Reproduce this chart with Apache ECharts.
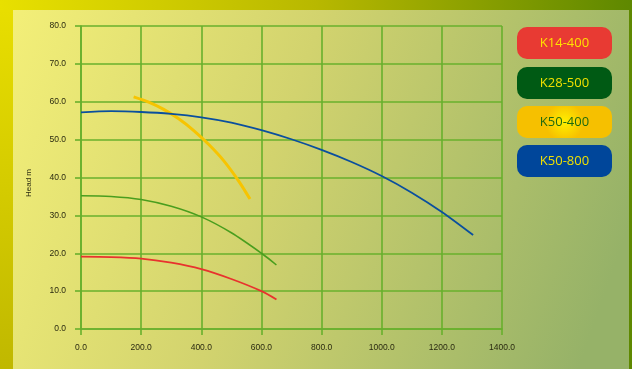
<!DOCTYPE html>
<html>
<head>
<meta charset="utf-8">
<script src="https://cdn.jsdelivr.net/npm/echarts@6/dist/echarts.min.js"></script>
<style>
html,body{margin:0;padding:0;background:#e0d800;}
#c{width:632px;height:369px;}
</style>
</head>
<body>
<div id="c"></div>
<script>
// ---- data ----
var seriesNames = ['K14-400', 'K28-500', 'K50-400', 'K50-800'];
var k14_400 = [[0,19.1],[100,19.0],[200,18.6],[300,17.5],[400,15.8],[500,13.2],[600,10.0],[650,7.8]];
var k28_500 = [[0,35.2],[100,35.0],[200,34.2],[300,32.4],[400,29.6],[500,25.4],[600,20.0],[650,16.9]];
var k50_400 = [[175,61.3],[225,59.9],[275,58.0],[325,55.5],[375,52.4],[425,48.7],[475,44.4],[525,39.0],[562,34.3]];
var k50_800 = [[0,57.2],[100,57.5],[200,57.3],[300,56.8],[400,55.9],[500,54.5],[600,52.5],[700,50.1],[800,47.3],[900,44.1],[1000,40.4],[1100,36.0],[1200,30.9],[1304,24.8]];
var yAxisName = 'Head m';

var lineColors = ['#e8322e', '#4a9e1e', '#f7c400', '#0a4f9e'];
var lineWidths = [1.8, 1.6, 3, 1.8];
var allData = [k14_400, k28_500, k50_400, k50_800];

var badgeFill = [
  '#e83a33',
  '#005a14',
  {type:'radial', x:0.5, y:0.5, r:0.6, colorStops:[{offset:0,color:'#fff000'},{offset:1,color:'#f6c000'}]},
  '#00469a'
];
var badgeText = ['#ffe000', '#f0e000', '#1e6a10', '#f0e000'];

var chart = echarts.init(document.getElementById('c'), null, {renderer:'canvas'});

var graphics = [
  {type:'rect', z:-20, shape:{x:0,y:0,width:632,height:369},
   style:{fill:{type:'linear',x:0,y:0,x2:1,y2:0,colorStops:[{offset:0,color:'#e8e000'},{offset:0.5,color:'#b8b800'},{offset:1,color:'#5e8800'}]}}},
  {type:'rect', z:-19, shape:{x:0,y:10,width:13,height:359},
   style:{fill:{type:'linear',x:0,y:0,x2:0,y2:1,colorStops:[{offset:0,color:'#e8de00'},{offset:1,color:'#c0b800'}]}}},
  {type:'rect', z:-18, shape:{x:13,y:10,width:616,height:359},
   style:{fill:{type:'linear',x:0,y:0,x2:1,y2:0.6,colorStops:[{offset:0,color:'#f3ef78'},{offset:0.45,color:'#d2d36e'},{offset:1,color:'#96b268'}]}}}
];
var badgeY = [27, 67, 106, 145];
for (var i = 0; i < seriesNames.length; i++) {
  graphics.push({type:'rect', z:10, shape:{x:517,y:badgeY[i],width:95,height:32,r:10},
    style:{fill:badgeFill[i]}});
  graphics.push({type:'text', z:11, x:564.5, y:badgeY[i]+16,
    style:{text:seriesNames[i], fill:badgeText[i], font:'13px "Open Sans", sans-serif', align:'center', verticalAlign:'middle'}});
}
graphics.push({type:'text', z:11, x:29, y:183, rotation:Math.PI/2,
  style:{text:yAxisName, fill:'#2a2a10', font:'8px "Liberation Sans", sans-serif', align:'center', verticalAlign:'middle'}});

var gridLine = {color:'#68b02c', width:1.6};

chart.setOption({
  animation:false,
  backgroundColor:'transparent',
  graphic: graphics,
  grid:{left:81, top:26, width:421, height:303, containLabel:false},
  xAxis:{
    type:'value', min:0, max:1400, interval:200,
    axisLine:{show:true, lineStyle:gridLine},
    axisTick:{show:true, length:6, lineStyle:gridLine},
    splitLine:{show:true, lineStyle:gridLine},
    axisLabel:{margin:14, color:'#2a2a10', fontSize:8.5, fontFamily:'Liberation Sans', formatter:function(v){return v.toFixed(1);}}
  },
  yAxis:{
    type:'value', min:0, max:80, interval:10,
    axisLine:{show:true, lineStyle:gridLine},
    axisTick:{show:true, length:6, lineStyle:gridLine},
    splitLine:{show:true, lineStyle:gridLine},
    axisLabel:{margin:15, color:'#2a2a10', fontSize:8.5, fontFamily:'Liberation Sans', formatter:function(v){return v.toFixed(1);}}
  },
  series: seriesNames.map(function(n, i){
    return {name:n, type:'line', smooth:0.3, showSymbol:false, data:allData[i],
      lineStyle:{color:lineColors[i], width:lineWidths[i]}, z:5+i};
  })
});
</script>
</body>
</html>
